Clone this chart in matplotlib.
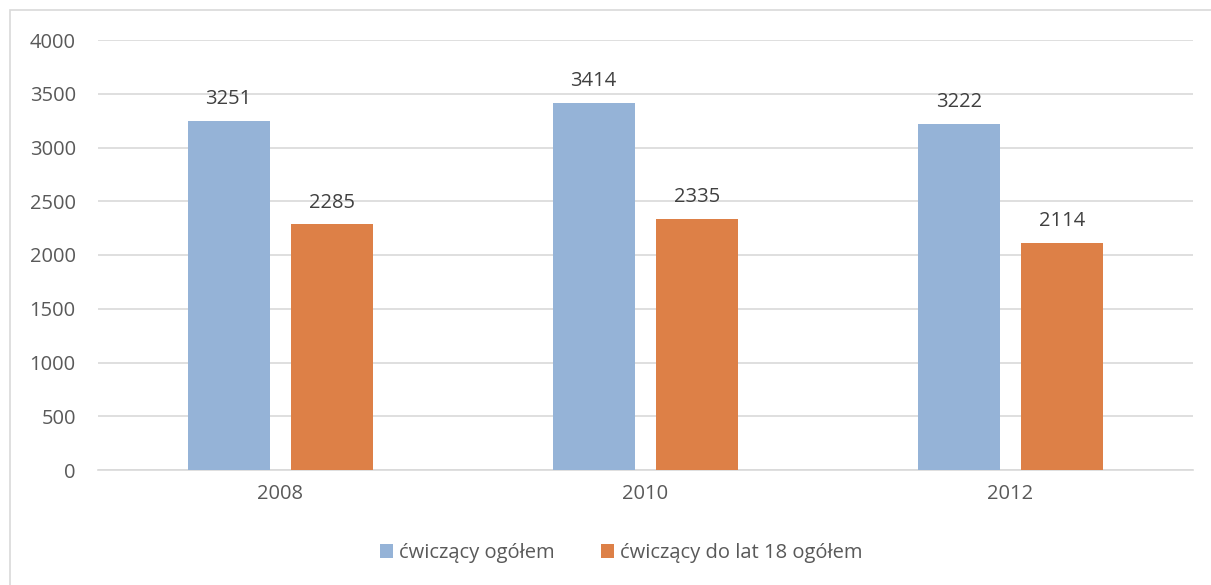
import matplotlib
matplotlib.use('Agg')
import matplotlib.pyplot as plt
import matplotlib.patches as mpatches
import numpy as np

plt.rcParams['font.family'] = ['Open Sans', 'DejaVu Sans']

years = ['2008', '2010', '2012']
total = [3251, 3414, 3222]
under18 = [2285, 2335, 2114]
labels = ['ćwiczący ogółem', 'ćwiczący do lat 18 ogółem']
colors = ['#95b3d7', '#dd8047']
TXT = '#595959'

W, H = 1211, 585
fig = plt.figure(figsize=(W / 100, H / 100), dpi=100)
# outer chart frame
fig.add_artist(mpatches.Rectangle((10 / W, -0.01), 1.2, 1 - 10 / H + 0.01,
                                  transform=fig.transFigure, fill=False,
                                  edgecolor='#d9d9d9', linewidth=1.2))

ax = fig.add_axes([98 / W, 1 - 470 / H, (1193 - 98) / W, (470 - 40) / H])
x = np.arange(len(years))
bw = 0.224
off = 0.142
b1 = ax.bar(x - off, total, bw, color=colors[0], label=labels[0], zorder=3)
b2 = ax.bar(x + off, under18, bw, color=colors[1], label=labels[1], zorder=3)
for bars in (b1, b2):
    for r in bars:
        ax.text(r.get_x() + r.get_width() / 2, r.get_height() + 110,
                f'{int(r.get_height())}', ha='center', va='bottom',
                fontsize=14.5, color='#404040')

ax.set_xlim(-0.5, 2.5)
ax.set_ylim(0, 4000)
ax.set_yticks(range(0, 4001, 500))
ax.set_xticks(x)
ax.set_xticklabels(years)
ax.yaxis.grid(True, color='#d9d9d9', linewidth=1.2, zorder=0)
for s in ['top', 'right', 'left']:
    ax.spines[s].set_visible(False)
ax.spines['bottom'].set_color('#d9d9d9')
ax.spines['bottom'].set_linewidth(1.2)
ax.tick_params(axis='both', length=0, labelsize=14.5, colors=TXT)
ax.tick_params(axis='y', pad=16)
ax.tick_params(axis='x', pad=10)

fig.legend(handles=[b1, b2], loc='center', bbox_to_anchor=(0.513, 1 - 553 / H),
           ncol=2, frameon=False, fontsize=14.5, labelcolor=TXT,
           handlelength=0.65, handleheight=0.65, handletextpad=0.3,
           columnspacing=2.3)

fig.savefig('out.png', dpi=100)
